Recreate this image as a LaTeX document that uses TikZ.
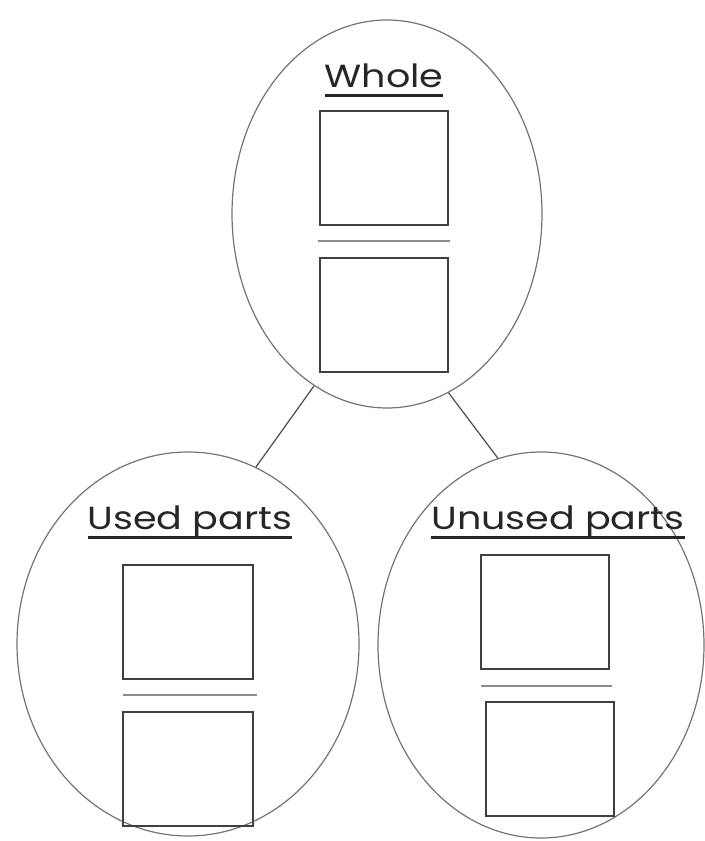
\documentclass[tikz,border=0pt]{standalone}
\usepackage{fontspec}
\setmainfont{Poppins}[FakeStretch=1.19]
\usepackage{tikz}
\usetikzlibrary{shapes.geometric}

% underlined heading
\newcommand{\ulhead}[1]{\setbox0\hbox{#1}\rlap{\raisebox{-4.4pt}{\rule{\wd0}{1.2pt}}}\box0}

\begin{document}
\begin{tikzpicture}[
    x=0.5pt, y=0.5pt,
    group/.style={draw=black!55, line width=0.6pt, ellipse, inner sep=0pt},
    partbox/.style={draw=black!75, line width=0.8pt, minimum width=64pt,
                    minimum height=57pt, inner sep=0pt},
    bar/.style={draw=black!45, line width=1.1pt},
    title/.style={anchor=base, font=\fontsize{16}{18}\selectfont, text=black!85},
    link/.style={draw=black!70, line width=0.6pt}
]
\useasboundingbox (0,0) rectangle (705,841);

% Sets
\node[group, minimum width=155pt, minimum height=194pt] (whole) at (387,627) {};
\node[group, minimum width=171pt, minimum height=192pt] (used) at (188,197) {};
\node[group, minimum width=163pt, minimum height=193pt] (unused) at (541,196) {};

% Titles
\node[title] (wholetitle) at (384,753) {\ulhead{Whole}};
\node[title] (usedtitle) at (190,311) {\ulhead{Used parts}};
\node[title] (unusedtitle) at (558,311) {\ulhead{Unused parts}};

% Parts
\node[partbox] (wholetop) at (384,673) {};
\node[partbox] (wholebot) at (384,526) {};
\node[partbox, minimum width=65pt] (usedtop) at (188,219) {};
\node[partbox, minimum width=65pt] (usedbot) at (188,72) {};
\node[partbox] (unusedtop) at (545,229) {};
\node[partbox] (unusedbot) at (550,82) {};

% Bars
\draw[bar] (318,600) -- (450,600);
\draw[bar] (123,146) -- (257,146);
\draw[bar] (481,155) -- (612,155);

% Links
\draw[link] (whole.247) -- (used.69);
\draw[link] (whole.289) -- (unused.103);

\end{tikzpicture}
\end{document}
